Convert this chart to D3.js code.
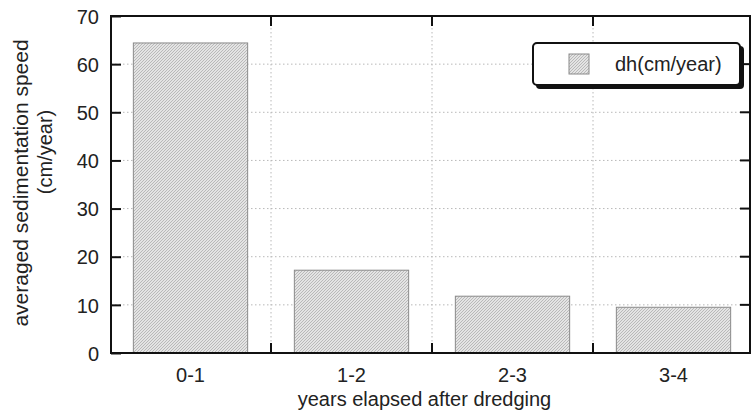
<!DOCTYPE html>
<html>
<head>
<meta charset="utf-8">
<script src="https://cdn.jsdelivr.net/npm/d3@7/dist/d3.min.js"></script>
<style>
  html, body { margin: 0; padding: 0; background: #fff; }
  svg { display: block; }
  text { font-family: "Liberation Sans", Arial, sans-serif; fill: #222; }
</style>
</head>
<body>
<svg id="chart" width="752" height="418"></svg>
<script>
const categories = ["0-1", "1-2", "2-3", "3-4"];
const values = [64.4, 17.2, 11.8, 9.5];
const yTicks = [0, 10, 20, 30, 40, 50, 60, 70];
const seriesName = "dh(cm/year)";
const xTitle = "years elapsed after dredging";
const yTitle = ["averaged sedimentation speed", "(cm/year)"];

const svg = d3.select("#chart");
const L = 111, R = 750, T = 16, B = 353;

const x = d3.scaleBand().domain(categories).range([110, 754])
  .paddingInner(0.29).paddingOuter(0.145);
const y = d3.scaleLinear().domain([0, 70]).range([B, T]);

// hatch pattern
const defs = svg.append("defs");
const pat = defs.append("pattern").attr("id", "hatch")
  .attr("patternUnits", "userSpaceOnUse").attr("width", 3).attr("height", 3);
pat.append("rect").attr("width", 3).attr("height", 3).attr("fill", "#e4e4e4");
pat.append("path").attr("d", "M-1,1 l2,-2 M0,3 l3,-3 M2,4 l2,-2")
  .attr("stroke", "#b4b4b4").attr("stroke-width", 0.9);

// grid lines
const grid = svg.append("g");
grid.selectAll("line.h").data(yTicks.filter(d => d > 0 && d < 70)).join("line")
  .attr("x1", L).attr("x2", R).attr("y1", d => y(d)).attr("y2", d => y(d))
  .attr("stroke", "#b8b8b8").attr("stroke-width", 1).attr("stroke-dasharray", "1.5,2.5");
const bounds = categories.slice(1).map(c => x(c) - x.step() * x.paddingInner() / 2);
grid.selectAll("line.v").data(bounds).join("line")
  .attr("x1", d => d).attr("x2", d => d).attr("y1", T).attr("y2", B)
  .attr("stroke", "#b8b8b8").attr("stroke-width", 1).attr("stroke-dasharray", "1.5,2.5");

// bars
svg.append("g").selectAll("rect").data(values).join("rect")
  .attr("x", (d, i) => x(categories[i]))
  .attr("y", d => y(d))
  .attr("width", x.bandwidth())
  .attr("height", d => B - y(d))
  .attr("fill", "url(#hatch)")
  .attr("stroke", "#8a8a8a").attr("stroke-width", 1);

// axes (left & bottom) with inward ticks
const yAxis = d3.axisLeft(y).tickValues(yTicks).tickSize(-10).tickPadding(12);
const gy = svg.append("g").attr("transform", `translate(${L},0)`).call(yAxis);
gy.select(".domain").remove();
gy.selectAll(".tick line").attr("stroke", "#111").attr("stroke-width", 2);
gy.selectAll(".tick text").attr("font-size", 20).attr("dy", "0.36em")
  .attr("font-family", "Liberation Sans, Arial, sans-serif").attr("fill", "#222");

const xAxis = d3.axisBottom(x).tickSize(0).tickPadding(15);
const gx = svg.append("g").attr("transform", `translate(0,${B})`).call(xAxis);
gx.select(".domain").remove();
gx.selectAll(".tick text").attr("font-size", 20)
  .attr("font-family", "Liberation Sans, Arial, sans-serif").attr("fill", "#222");

// boundary ticks bottom/top, mirror ticks right
const tk = svg.append("g").attr("stroke", "#111").attr("stroke-width", 2);
tk.selectAll("line.b").data(bounds).join("line")
  .attr("x1", d => d).attr("x2", d => d).attr("y1", B).attr("y2", B - 10);
tk.selectAll("line.t").data(bounds).join("line")
  .attr("x1", d => d).attr("x2", d => d).attr("y1", T).attr("y2", T + 10);
tk.selectAll("line.r").data(yTicks.filter(d => d > 0 && d < 70)).join("line")
  .attr("x1", R).attr("x2", R - 10).attr("y1", d => y(d)).attr("y2", d => y(d));

// frame
svg.append("rect").attr("x", L).attr("y", T).attr("width", R - L).attr("height", B - T)
  .attr("fill", "none").attr("stroke", "#111").attr("stroke-width", 2);

// legend
const lg = svg.append("g");
lg.append("rect").attr("x", 536).attr("y", 46).attr("width", 208).attr("height", 43)
  .attr("rx", 4).attr("fill", "#111");
lg.append("rect").attr("x", 533).attr("y", 43).attr("width", 207).attr("height", 42)
  .attr("rx", 4).attr("fill", "#fff").attr("stroke", "#111").attr("stroke-width", 2);
lg.append("rect").attr("x", 569).attr("y", 54).attr("width", 20).attr("height", 20)
  .attr("fill", "url(#hatch)").attr("stroke", "#8a8a8a").attr("stroke-width", 1);
lg.append("text").attr("x", 615).attr("y", 71).attr("font-size", 20).text(seriesName);

// axis titles
svg.append("text").attr("x", (L + R) / 2 - 6).attr("y", 406)
  .attr("text-anchor", "middle").attr("font-size", 20).text(xTitle);
svg.append("text").attr("transform", "translate(28,183) rotate(-90)")
  .attr("text-anchor", "middle").attr("font-size", 21).text(yTitle[0]);
svg.append("text").attr("transform", "translate(52,152) rotate(-90)")
  .attr("text-anchor", "middle").attr("font-size", 20).text(yTitle[1]);
</script>
</body>
</html>
